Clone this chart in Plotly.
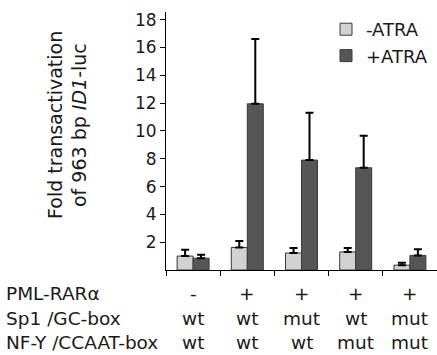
import plotly.graph_objects as go

categories = ["c1", "c2", "c3", "c4", "c5"]
minus_atra = [1.0, 1.62, 1.22, 1.3, 0.35]
minus_err = [0.46, 0.46, 0.36, 0.28, 0.17]
plus_atra = [0.85, 11.95, 7.9, 7.35, 1.05]
plus_err = [0.25, 4.65, 3.4, 2.3, 0.45]
y_ticks = [2, 4, 6, 8, 10, 12, 14, 16, 18]

row_labels = ["PML-RAR\u03b1", "Sp1 /GC-box", "NF-Y /CCAAT-box"]
pml_rar = ["-", "+", "+", "+", "+"]
sp1_gc = ["wt", "wt", "mut", "wt", "mut"]
nfy_ccaat = ["wt", "wt", "wt", "mut", "mut"]

FONT = "DejaVu Sans"
TXT = "#1a1a1a"

fig = go.Figure()
fig.add_trace(go.Bar(
    x=categories, y=minus_atra, name="-ATRA",
    marker=dict(color="#d2d2d2", line=dict(color="#3a3a3a", width=1)),
    error_y=dict(type="data", symmetric=False, array=minus_err,
                 arrayminus=[0] * 5, color="black", thickness=2, width=4),
))
fig.add_trace(go.Bar(
    x=categories, y=plus_atra, name="+ATRA",
    marker=dict(color="#565656", line=dict(color="#3a3a3a", width=1)),
    error_y=dict(type="data", symmetric=False, array=plus_err,
                 arrayminus=[0] * 5, color="black", thickness=2, width=4),
))

L, R, T, B = 166, 0, 12, 85
W, H = 437, 355
ph = H - T - B
pw = W - L - R

def py(ypx):
    return (H - B - ypx) / ph

def px(xpx):
    return (xpx - L) / pw

annotations = []
# y-axis title (two lines)
annotations.append(dict(text="Fold transactivation", x=px(55), y=py(125),
                        xref="paper", yref="paper", textangle=-90, showarrow=False,
                        xanchor="center", yanchor="middle",
                        font=dict(family=FONT, size=19, color=TXT)))
annotations.append(dict(text="of 963 bp <i>ID1</i>-luc", x=px(79), y=py(125),
                        xref="paper", yref="paper", textangle=-90, showarrow=False,
                        xanchor="center", yanchor="middle",
                        font=dict(family=FONT, size=19, color=TXT)))

row_bottom = [306, 331, 355]
rows = [pml_rar, sp1_gc, nfy_ccaat]
for lbl, yy, vals in zip(row_labels, row_bottom, rows):
    annotations.append(dict(text=lbl, x=px(4), y=py(yy), xref="paper", yref="paper",
                            xanchor="left", yanchor="bottom", showarrow=False,
                            font=dict(family=FONT, size=18.5, color=TXT)))
    for c, v in zip(categories, vals):
        annotations.append(dict(text=v, x=c, y=py(yy), xref="x", yref="paper",
                                xanchor="center", yanchor="bottom", showarrow=False,
                                font=dict(family=FONT, size=18.5, color=TXT)))

fig.update_layout(
    width=W, height=H,
    margin=dict(l=L, r=R, t=T, b=B, pad=0),
    paper_bgcolor="white", plot_bgcolor="white",
    barmode="group", bargap=0.41, bargroupgap=0,
    showlegend=True,
    legend=dict(x=px(326), y=py(11), xanchor="left", yanchor="top",
                font=dict(family=FONT, size=18, color=TXT),
                bgcolor="rgba(0,0,0,0)", itemwidth=30, tracegroupgap=0),
    xaxis=dict(range=[-0.5, 4.5], showticklabels=False, ticks="outside",
               tickson="boundaries", ticklen=5, tickcolor="black", tickwidth=1,
               showline=True, linecolor="black", linewidth=1, showgrid=False,
               zeroline=False),
    yaxis=dict(range=[0, 18.55], tickvals=y_ticks, ticks="outside", ticklen=5,
               tickcolor="black", tickwidth=1, showline=True, linecolor="black",
               linewidth=1, showgrid=False, zeroline=False,
               tickfont=dict(family=FONT, size=17, color=TXT)),
    annotations=annotations,
)

fig.write_html("out.html")
